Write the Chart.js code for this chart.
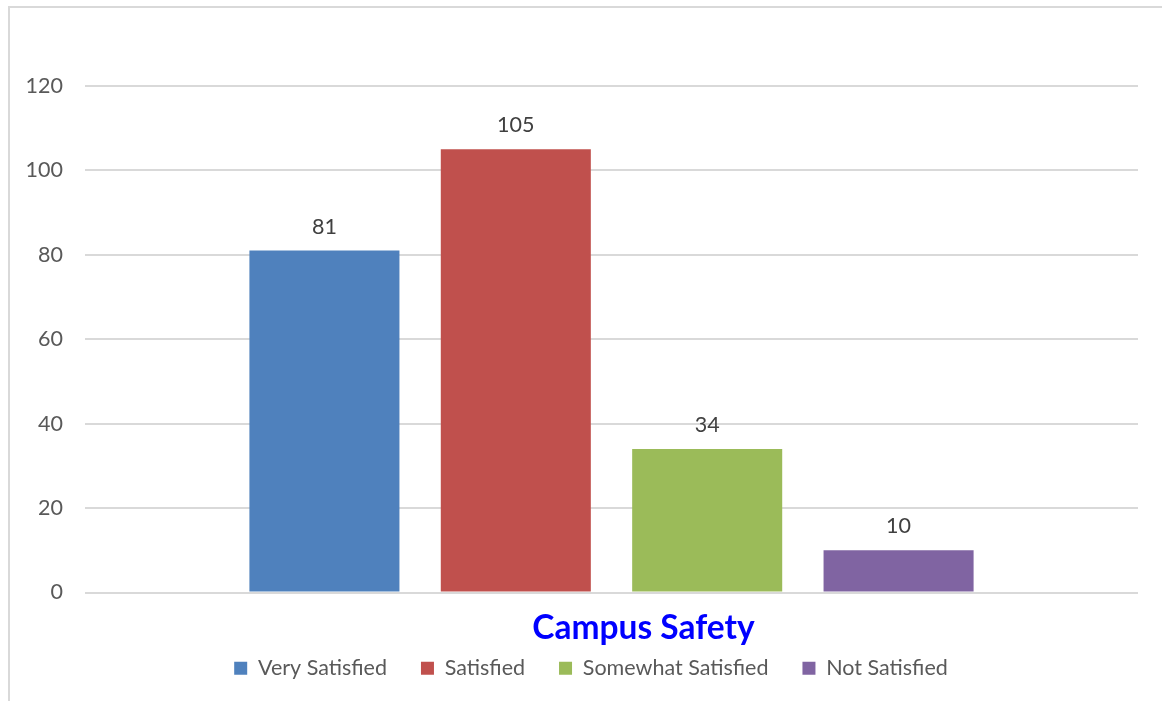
<!DOCTYPE html>
<html>
<head>
<meta charset="utf-8">
<script src="https://cdn.jsdelivr.net/npm/chart.js@4/dist/chart.umd.min.js"></script>
<style>
  html, body { margin: 0; padding: 0; background: #fff; overflow: hidden; }
  #frame { position: absolute; left: 8px; top: 6px; width: 1170px; height: 710px; border: 2px solid #d9d9d9; box-sizing: border-box; }
  #wrap { position: absolute; left: 0; top: 0; width: 1162px; height: 701px; }
</style>
</head>
<body>
<div id="frame"></div>
<div id="wrap"><canvas id="c" width="1162" height="701"></canvas></div>
<script>
const categories = ["Campus Safety"];
const seriesNames = ["Very Satisfied", "Satisfied", "Somewhat Satisfied", "Not Satisfied"];
const seriesValues = [[81], [105], [34], [10]];
const seriesColors = ["#4f81bd", "#c0504d", "#9bbb59", "#8064a2"];
const yTicks = [0, 20, 40, 60, 80, 100, 120];

const FONT = "Lato, 'Open Sans', 'DejaVu Sans', sans-serif";

const valueLabels = {
  id: 'valueLabels',
  beforeDraw(chart) {
    // shift legend slightly right, as in the reference
    const lg = chart.legend;
    if (lg && !lg._shifted) { lg.left += 17; lg.right += 17; lg._shifted = true; }
  },
  afterDatasetsDraw(chart) {
    const ctx = chart.ctx;
    ctx.save();
    ctx.font = "21.5px " + FONT;
    ctx.fillStyle = "#404040";
    ctx.textAlign = "center";
    ctx.textBaseline = "alphabetic";
    chart.data.datasets.forEach((ds, i) => {
      const meta = chart.getDatasetMeta(i);
      meta.data.forEach((bar, j) => {
        ctx.fillText(String(ds.data[j]), bar.x, bar.y - 17);
      });
    });
    // category label under the x axis
    const xs = chart.scales.x;
    ctx.font = "bold 33.5px " + FONT;
    ctx.fillStyle = "#0000ff";
    xs.ticks.forEach((t, k) => {
      ctx.fillText(xs.getLabelForValue(t.value), xs.getPixelForTick(k) + 32, xs.top + 46);
    });
    ctx.restore();
  }
};

new Chart(document.getElementById('c'), {
  type: 'bar',
  data: {
    labels: categories,
    datasets: seriesNames.map((n, i) => ({
      label: n,
      data: seriesValues[i],
      backgroundColor: seriesColors[i],
      borderWidth: 0,
      categoryPercentage: 0.727,
      barPercentage: 0.784
    }))
  },
  options: {
    responsive: false,
    animation: false,
    devicePixelRatio: 1,
    layout: { padding: { top: 86, right: 24, left: 10, bottom: 12 } },
    plugins: {
      legend: {
        position: 'bottom',
        labels: {
          font: { family: FONT, size: 21.5 },
          color: "#595959",
          boxWidth: 13,
          boxHeight: 13,
          padding: 34
        }
      },
      tooltip: { enabled: false }
    },
    scales: {
      x: {
        grid: { display: false },
        border: { display: false },
        afterFit(scale) { scale.height = 31; },
        ticks: { display: false }
      },
      y: {
        min: 0, max: 120,
        afterBuildTicks(scale) { scale.ticks = yTicks.map(v => ({ value: v })); },
        afterFit(scale) { scale.width = 75; },
        grid: { color: "#d9d9d9", lineWidth: 2, drawTicks: false },
        border: { display: false },
        ticks: {
          color: "#595959",
          font: { family: FONT, size: 21.5 },
          padding: 22
        }
      }
    }
  },
  plugins: [valueLabels]
});
</script>
</body>
</html>
